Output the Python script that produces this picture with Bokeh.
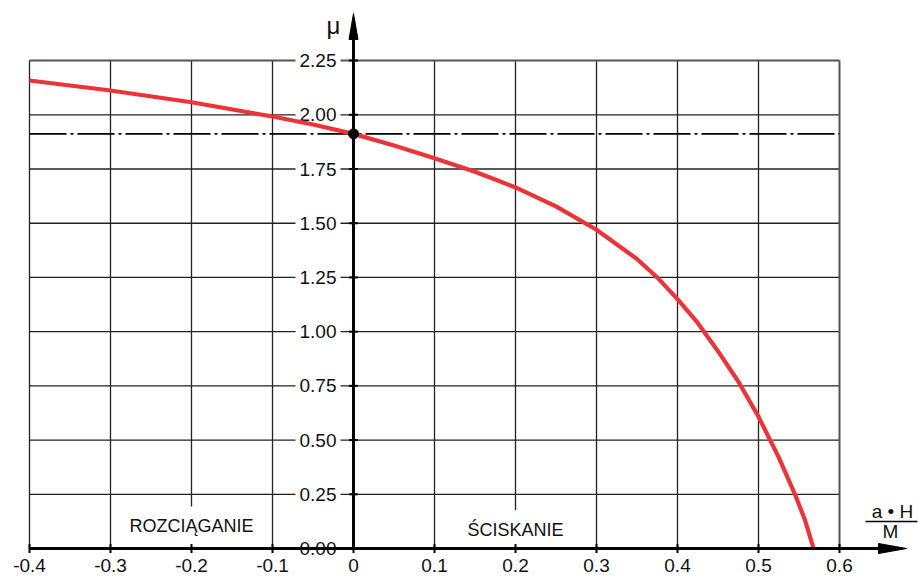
from bokeh.plotting import figure
from bokeh.models import Range1d
from bokeh.core.properties import value
from bokeh.embed import file_html
from bokeh.resources import INLINE

# ---- data ----
x_ticks = [-0.4, -0.3, -0.2, -0.1, 0.0, 0.1, 0.2, 0.3, 0.4, 0.5, 0.6]
x_tick_labels = ["-0.4", "-0.3", "-0.2", "-0.1", "0", "0.1", "0.2", "0.3", "0.4", "0.5", "0.6"]
y_ticks = [0.0, 0.25, 0.5, 0.75, 1.0, 1.25, 1.5, 1.75, 2.0, 2.25]
y_tick_labels = ["0.00", "0.25", "0.50", "0.75", "1.00", "1.25", "1.50", "1.75", "2.00", "2.25"]

curve_x = [-0.4, -0.3, -0.2, -0.1, -0.05, 0.0, 0.05, 0.1, 0.15, 0.2, 0.25, 0.3, 0.35,
           0.375, 0.4, 0.425, 0.45, 0.475, 0.5, 0.525, 0.545, 0.557, 0.568]
curve_mu = [2.158, 2.112, 2.058, 1.992, 1.955, 1.912, 1.858, 1.800, 1.737, 1.665, 1.578, 1.470, 1.335,
            1.25, 1.15, 1.04, 0.91, 0.77, 0.608, 0.42, 0.25, 0.135, 0.0]
mu0 = 1.912
region_labels = ["ROZCIĄGANIE", "ŚCISKANIE"]

# ---- layout ----
W, H = 918, 580
SX, SY = 810.0, 216.85          # pixels per data unit
X0PX, Y0PX = 353.0, 548.0       # pixel position of the origin
xr = Range1d(-X0PX / SX, (W - X0PX) / SX)
yr = Range1d(-(H - Y0PX) / SY, Y0PX / SY)

p = figure(width=W, height=H, x_range=xr, y_range=yr, output_backend="svg",
           toolbar_location=None, x_axis_location=None, y_axis_location=None,
           min_border=0, outline_line_color=None)
p.xgrid.visible = False
p.ygrid.visible = False
p.background_fill_color = "white"
p.border_fill_color = "white"

xmin, xmax = x_ticks[0], x_ticks[-1]
ymin, ymax = y_ticks[0], y_ticks[-1]
FONT = value("Liberation Sans")
GRID = "#222222"

# grid
p.segment(x0=x_ticks[:-1], y0=[ymin] * (len(x_ticks) - 1), x1=x_ticks[:-1], y1=[ymax] * (len(x_ticks) - 1),
          line_color=GRID, line_width=1.3)
p.segment(x0=[xmin] * (len(y_ticks) - 2), y0=y_ticks[1:-1], x1=[xmax] * (len(y_ticks) - 2), y1=y_ticks[1:-1],
          line_color=GRID, line_width=1.3)
# top / right border (slightly grey, thicker)
p.segment(x0=[xmin], y0=[ymax], x1=[xmax], y1=[ymax], line_color="#555555", line_width=2)
p.segment(x0=[xmax], y0=[ymin], x1=[xmax], y1=[ymax], line_color="#555555", line_width=2)

# dash-dot reference line
p.line(x=[xmin, xmax], y=[mu0, mu0], line_color="black", line_width=1.6, line_dash="37 4 3 4")

# y tick labels with white background (interrupt grid)
p.text(x=[0.0] * len(y_ticks), y=y_ticks, text=y_tick_labels, x_offset=-13,
       text_align="right", text_baseline="middle", text_font=FONT, text_font_size="19px",
       text_color="#111111", background_fill_color="white", padding=(4, 2))

# x tick labels
p.text(x=x_ticks, y=[0.0] * len(x_ticks), text=x_tick_labels, y_offset=17,
       text_align="center", text_baseline="middle", text_font=FONT, text_font_size="19px",
       text_color="#111111")

# region labels
p.text(x=[-0.2], y=[0.1015], text=[region_labels[0]], text_align="center", text_baseline="middle",
       text_font=FONT, text_font_size="18px", text_color="#111111",
       background_fill_color="white", padding=(6, 10))
p.text(x=[0.2], y=[0.085], text=[region_labels[1]], text_align="center", text_baseline="middle",
       text_font=FONT, text_font_size="18px", text_color="#111111",
       background_fill_color="white", padding=(6, 10))

# curve
p.line(x=curve_x, y=curve_mu, line_color="#ee3338", line_width=4.2, line_join="round")

# axes
x_tip = (906 - X0PX) / SX
y_tip = (Y0PX - 13) / SY
x_head_len, x_head_half = 28 / SX, 5 / SY
y_head_len, y_head_half = 26 / SY, 4.5 / SX
p.line(x=[xmin, x_tip - x_head_len], y=[0, 0], line_color="black", line_width=3)
p.line(x=[0, 0], y=[0, y_tip - y_head_len], line_color="black", line_width=3)
p.patch(x=[x_tip, x_tip - x_head_len, x_tip - x_head_len], y=[0, x_head_half, -x_head_half],
        fill_color="black", line_color="black")
p.patch(x=[0, y_head_half, -y_head_half], y=[y_tip, y_tip - y_head_len, y_tip - y_head_len],
        fill_color="black", line_color="black")

# axis ticks
tx = 4.5 / SY
p.segment(x0=x_ticks, y0=[-tx] * len(x_ticks), x1=x_ticks, y1=[tx] * len(x_ticks),
          line_color="black", line_width=2)
ty = 4.5 / SX
p.segment(x0=[-ty] * len(y_ticks), y0=y_ticks, x1=[ty] * len(y_ticks), y1=y_ticks,
          line_color="black", line_width=2)

# point at origin of curve
p.scatter(x=[0.0], y=[mu0], size=10, color="black")

# axis titles
p.text(x=[0.0], y=[(Y0PX - 25) / SY], text=["μ"], x_offset=-20, text_align="center",
       text_baseline="middle", text_font=FONT, text_font_size="24px", text_color="#111111")
p.text(x=[(892 - X0PX) / SX], y=[(Y0PX - 511) / SY], text=["a • H"], text_align="center",
       text_baseline="middle", text_font=FONT, text_font_size="19px", text_color="#111111")
p.segment(x0=[(865 - X0PX) / SX], y0=[(Y0PX - 521) / SY], x1=[(917 - X0PX) / SX], y1=[(Y0PX - 521) / SY],
          line_color="black", line_width=1.5)
p.text(x=[(890 - X0PX) / SX], y=[(Y0PX - 531) / SY], text=["M"], text_align="center",
       text_baseline="middle", text_font=FONT, text_font_size="19px", text_color="#111111")

open("out.html", "w").write(file_html(p, INLINE))
